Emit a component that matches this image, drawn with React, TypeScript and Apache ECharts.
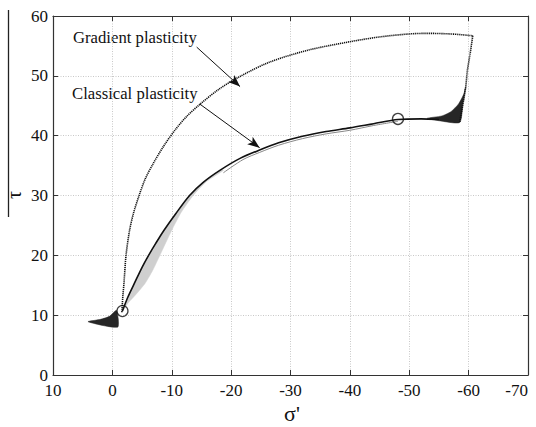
import React, { useEffect, useRef } from "react";
import * as echarts from "echarts";

const xTicks = [10, 0, -10, -20, -30, -40, -50, -60, -70];
const yTicks = [0, 10, 20, 30, 40, 50, 60];

const gradientArc: [number, number][] = [
  [-1.6, 10.5], [-1.75, 13], [-1.95, 15.3], [-2.3, 20], [-2.9, 24.2], [-3.6, 27.2], [-4.5, 30],
  [-5.5, 32.7], [-6.8, 35.2], [-8.6, 38.2], [-10.6, 41], [-12.5, 43.2], [-14.7, 45.2],
  [-18, 47.8], [-21.5, 49.9], [-26.5, 52.3], [-33, 54.3], [-40, 55.7], [-45, 56.5],
  [-50, 57.0], [-53, 57.1], [-57, 57.0], [-60.7, 56.7],
];

const gradientDrop: [number, number][] = [
  [-60.7, 56.7], [-60.3, 54], [-59.8, 51], [-59.5, 48], [-59, 45], [-58.5, 42.3],
];

const classicalCurve: [number, number][] = [
  [-1.7, 10.7], [-2.6, 13], [-3.7, 15.3], [-5.0, 18], [-6.1, 20], [-7.3, 22], [-8.7, 24.2],
  [-10.7, 27], [-13.0, 30], [-15.3, 32.2], [-18.1, 34.2], [-21.5, 36.2], [-24.8, 37.6],
  [-28, 38.8], [-32, 39.9], [-36, 40.7], [-40, 41.3], [-44, 42.0], [-48.1, 42.7],
  [-52, 42.8], [-55, 42.7],
];

const classicalShadow: [number, number][] = [
  [-18.7, 33.8], [-22, 36.0], [-24.8, 37.2], [-28, 38.4], [-32, 39.5], [-36, 40.3],
  [-40, 40.9], [-44, 41.7], [-48.1, 42.4],
];

const grayBand: [number, number][] = [
  [-1.7, 10.7], [-2.6, 13], [-3.7, 15.3], [-5.0, 18], [-6.1, 20], [-7.3, 22], [-8.7, 24.2],
  [-10.7, 27], [-13.0, 30], [-15.3, 32.2], [-18.1, 34.2], [-18.7, 34.2],
  [-15.8, 32.3], [-13.6, 30], [-11.6, 27.2], [-10, 24.2], [-8, 20], [-6.8, 17.5],
  [-5.5, 15.3], [-4, 13.5], [-2.7, 12.1],
];

const rightFan: [number, number][] = [
  [-53, 42.9], [-55.5, 43.3], [-57, 44], [-58.3, 45.3], [-59.2, 47], [-59.5, 48.2],
  [-59, 45], [-58.5, 42.2], [-55, 42.5],
];

const leftFan: [number, number][] = [
  [4.1, 8.9], [2, 9.3], [0.5, 9.8], [-0.7, 10.8], [-0.9, 8.0],
];

const markers: [number, number][] = [[-1.7, 10.7], [-48.1, 42.8]];

const gradArrow = { from: [-14.2, 54.8], to: [-21.5, 48.2] };
const classArrow = { from: [-14.7, 45.3], to: [-24.8, 38.0] };

const FONT = "'Liberation Serif', 'Times New Roman', serif";

function polygonSeries(points: [number, number][], color: string) {
  return {
    type: "custom",
    data: [0],
    silent: true,
    z: 2,
    renderItem: (_params: any, api: any) => ({
      type: "polygon",
      shape: { points: points.map((p) => api.coord(p)), smooth: 0.2 },
      style: { fill: color, stroke: color, lineWidth: 0.5 },
    }),
  };
}

export default function App() {
  const ref = useRef<HTMLDivElement>(null);
  useEffect(() => {
    if (!ref.current) return;
    document.body.style.margin = "0";
    const chart = echarts.init(ref.current, undefined, { renderer: "svg" });
    const axisLabel = { fontFamily: FONT, fontSize: 17, color: "#111" };
    const axisLine = { show: true, onZero: false, lineStyle: { color: "#333", width: 1.2 } };
    const axisTick = { show: true, inside: true, length: 5, lineStyle: { color: "#333" } };
    const splitLine = { show: true, lineStyle: { color: "#c8c8c8", type: [1, 1.5], width: 1 } };
    chart.setOption({
      animation: false,
      grid: { left: 53, right: 8, top: 16, bottom: 52 },
      xAxis: [
        {
          type: "value", inverse: true, min: -70, max: 10, interval: 10, position: "bottom",
          axisLine, axisTick, splitLine,
          axisLabel: { ...axisLabel, margin: 7, alignMinLabel: "right" },
        },
        {
          type: "value", inverse: true, min: -70, max: 10, interval: 10, position: "top",
          axisLine, axisTick, splitLine: { show: false }, axisLabel: { show: false },
        },
      ],
      yAxis: [
        {
          type: "value", min: 0, max: 60, interval: 10, position: "left",
          axisLine, axisTick, splitLine, axisLabel: { ...axisLabel, margin: 5 },
        },
        {
          type: "value", min: 0, max: 60, interval: 10, position: "right",
          axisLine, axisTick, splitLine: { show: false }, axisLabel: { show: false },
        },
      ],
      series: [
        polygonSeries(grayBand, "#cfcfcf"),
        polygonSeries(rightFan, "#262626"),
        polygonSeries(leftFan, "#262626"),
        {
          type: "line", data: classicalShadow, showSymbol: false, symbol: "none", z: 3, smooth: 0.3,
          lineStyle: { color: "#888", width: 1 },
        },
        {
          type: "line", data: classicalCurve, showSymbol: false, symbol: "none", z: 4, smooth: 0.3,
          lineStyle: { color: "#111", width: 1.6 },
        },
        {
          type: "line", data: gradientDrop, showSymbol: false, symbol: "none", z: 4,
          lineStyle: { color: "#111", width: 1.6, type: [1.2, 0.8] },
        },
        {
          type: "line", data: gradientArc, showSymbol: false, symbol: "none", z: 4, smooth: 0.3,
          lineStyle: { color: "#111", width: 1.6, type: [1.2, 0.8] },
          markLine: {
            silent: true, symbol: ["none", "arrow"], symbolSize: [7, 12],
            label: { show: false },
            lineStyle: { color: "#111", width: 1, type: "solid" },
            data: [
              [{ coord: gradArrow.from }, { coord: gradArrow.to }],
              [{ coord: classArrow.from }, { coord: classArrow.to }],
            ],
          },
        },
        {
          type: "scatter", data: markers, symbol: "circle", symbolSize: 11, z: 5,
          itemStyle: { color: "rgba(0,0,0,0)", borderColor: "#111", borderWidth: 1.3 },
        },
      ],
      graphic: [
        {
          type: "text", left: 73, top: 29,
          style: { text: "Gradient plasticity", font: `16.7px ${FONT}`, fill: "#111" },
        },
        {
          type: "text", left: 72, top: 85,
          style: { text: "Classical plasticity", font: `16.7px ${FONT}`, fill: "#111" },
        },
        {
          type: "text", x: 292, y: 413,
          style: { text: "σ'", font: `22px ${FONT}`, fill: "#111", align: "center", verticalAlign: "middle" },
        },
        {
          type: "line", shape: { x1: 8.5, y1: 10, x2: 8.5, y2: 217 },
          style: { stroke: "#222", lineWidth: 1.3 },
        },
        {
          type: "text", x: 14, y: 195, rotation: Math.PI / 2,
          style: { text: "τ", font: `20px ${FONT}`, fill: "#111", align: "center", verticalAlign: "middle" },
        },
      ],
    });
    return () => chart.dispose();
  }, []);
  return <div ref={ref} style={{ width: 536, height: 427 }} />;
}
